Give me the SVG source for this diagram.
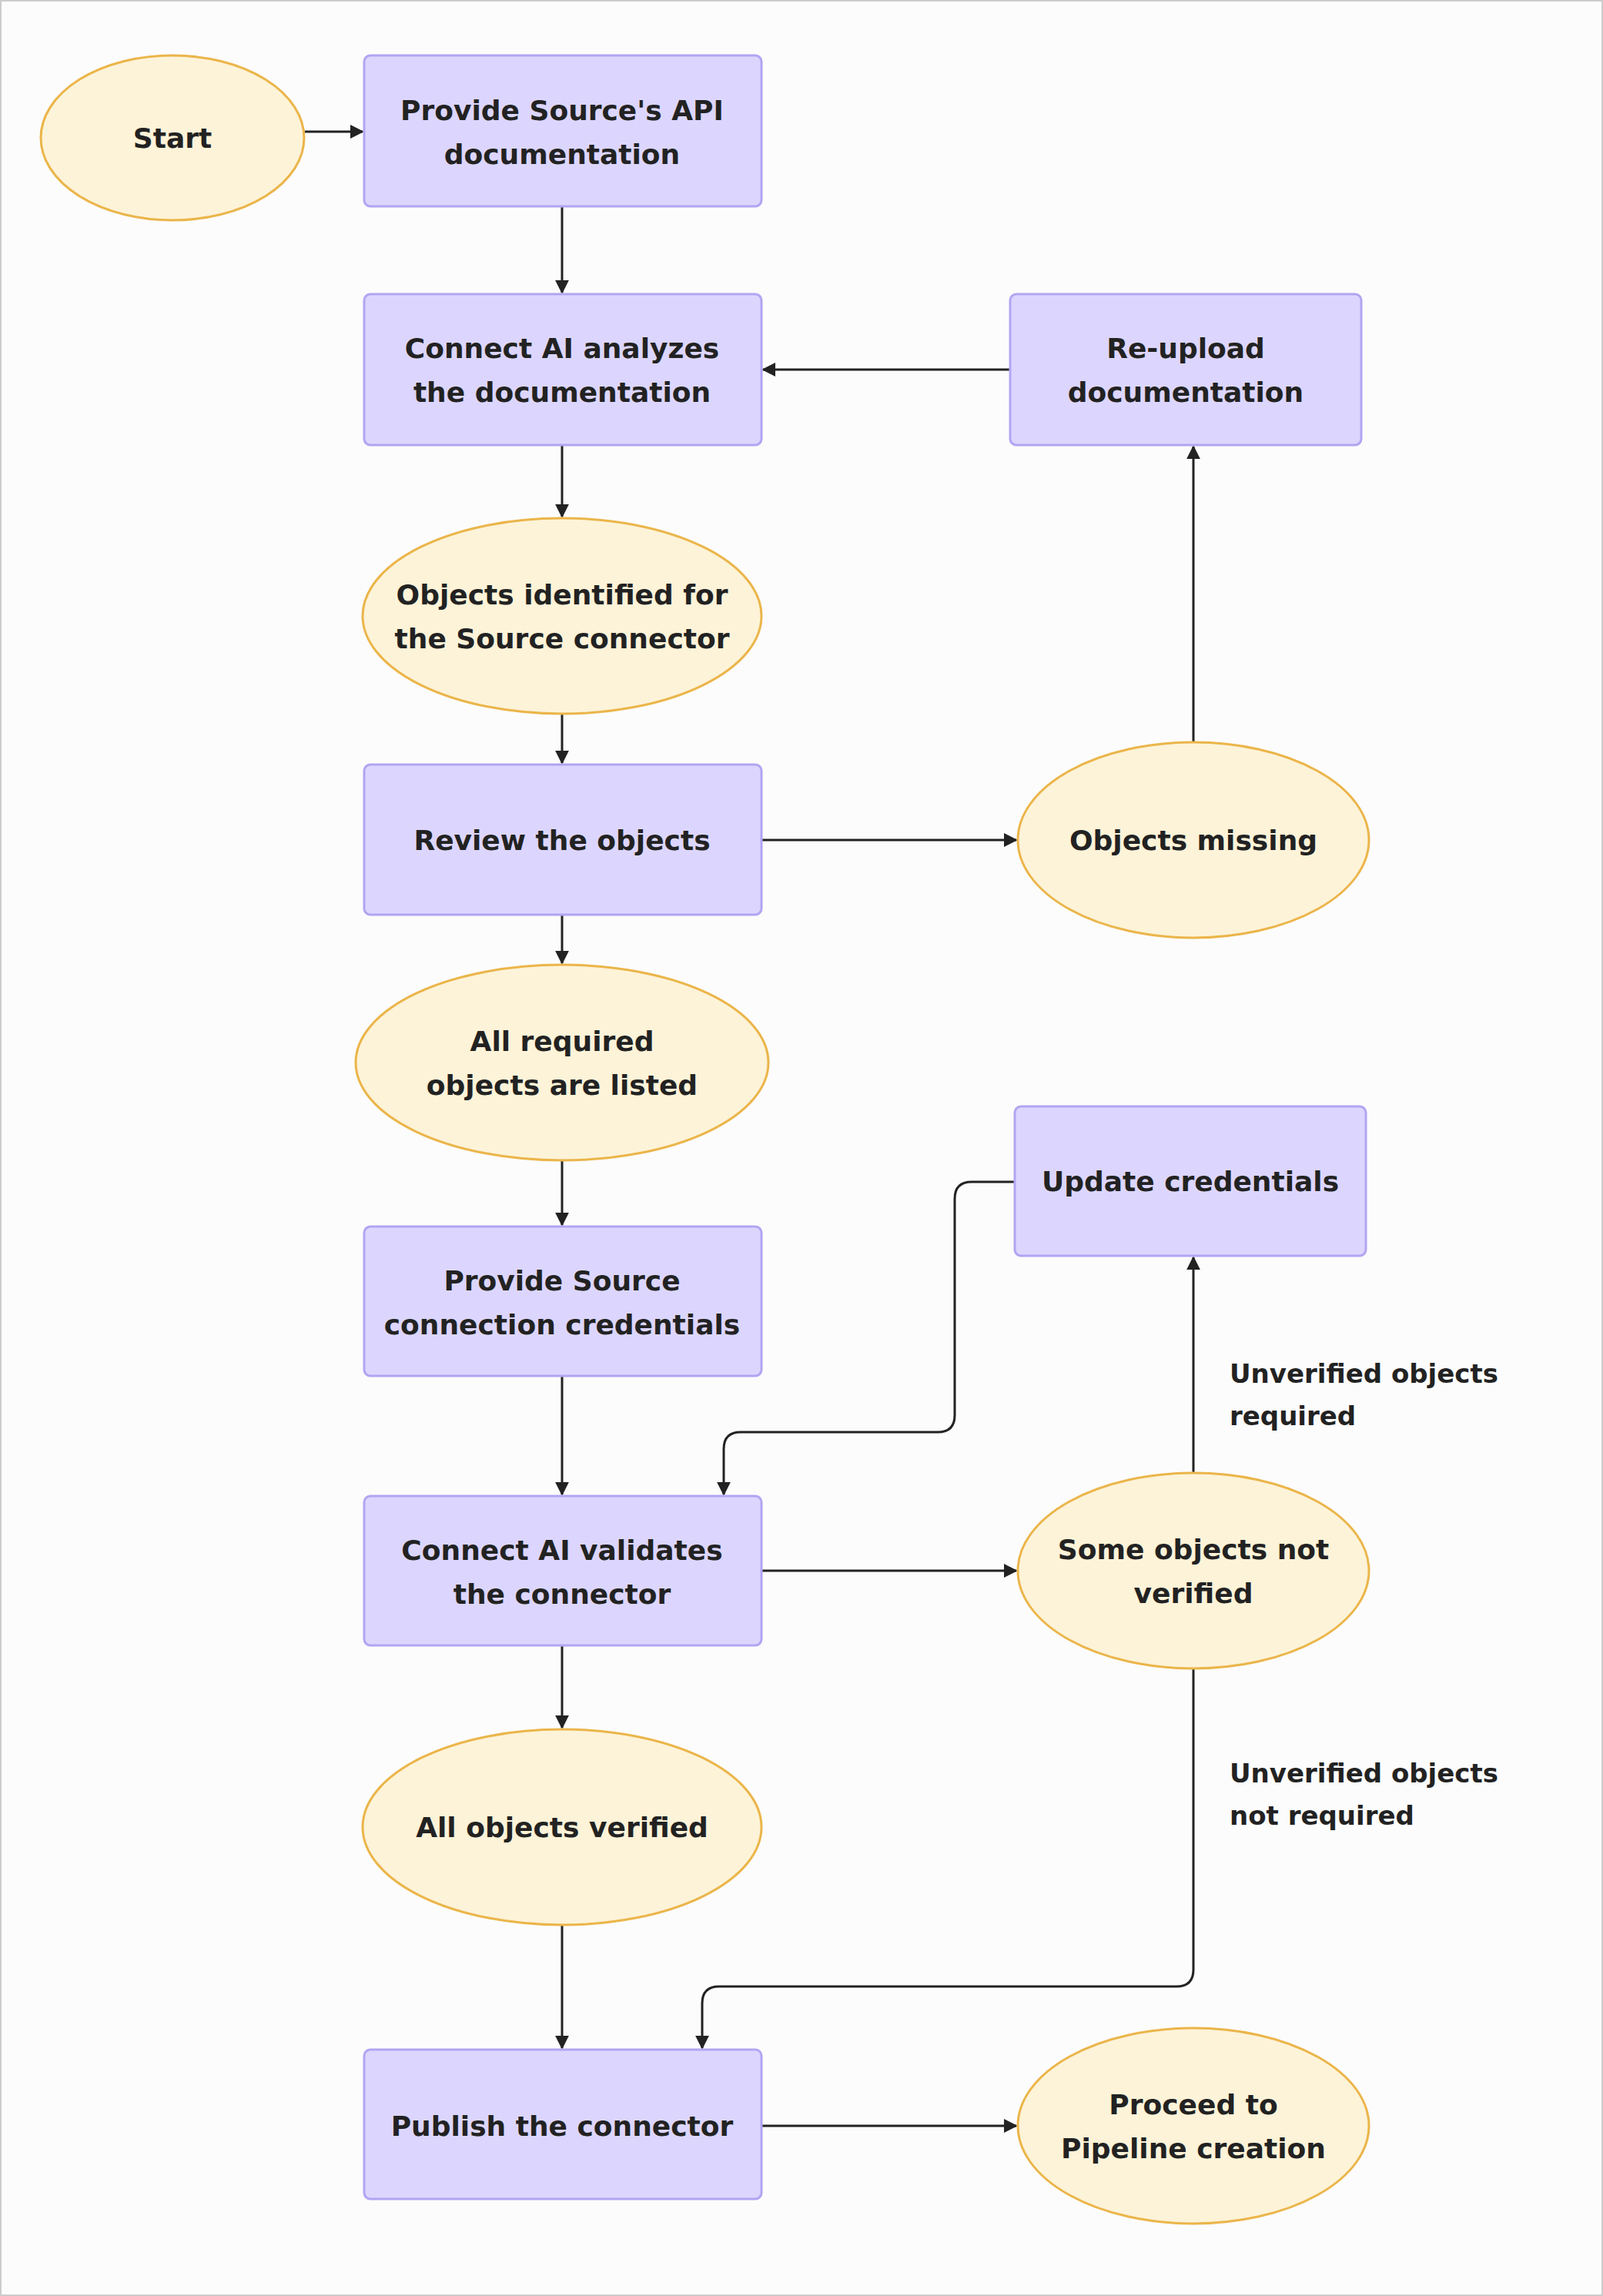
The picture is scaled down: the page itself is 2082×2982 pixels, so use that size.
<svg xmlns="http://www.w3.org/2000/svg" width="2082" height="2982" viewBox="0 0 2082 2982">
<defs>
<marker id="ah" viewBox="0 0 10 10" refX="9" refY="5" markerWidth="6" markerHeight="6" orient="auto"><path d="M0,0L10,5L0,10z" fill="#222"/></marker>
<style>
.r{fill:#DCD6FE;stroke:#B3A4F2;stroke-width:3}
.e{fill:#FDF3D8;stroke:#EBB54A;stroke-width:3}
.t{font-family:"DejaVu Sans",sans-serif;font-weight:bold;font-size:36px;fill:#222;text-anchor:middle}
.l{font-family:"DejaVu Sans",sans-serif;font-weight:bold;font-size:34px;fill:#222}
.c{fill:none;stroke:#222;stroke-width:3;marker-end:url(#ah)}
</style>
</defs>
<rect x="1" y="1" width="2080" height="2980" fill="#FCFCFC" stroke="#ccc" stroke-width="2"/>
<g id="connectors">
<path class="c" d="M396,171H471"/>
<path class="c" d="M730,268V380"/>
<path class="c" d="M730,578V671"/>
<path class="c" d="M730,927V991"/>
<path class="c" d="M989,1091H1320"/>
<path class="c" d="M1550,964V580"/>
<path class="c" d="M1312,480H991"/>
<path class="c" d="M730,1188V1251"/>
<path class="c" d="M730,1507V1591"/>
<path class="c" d="M730,1787V1941"/>
<path class="c" d="M1318,1535H1262Q1240,1535 1240,1557V1838Q1240,1860 1218,1860H962Q940,1860 940,1882V1941"/>
<path class="c" d="M989,2040H1320"/>
<path class="c" d="M1550,1913V1633"/>
<path class="c" d="M730,2137V2244"/>
<path class="c" d="M730,2500V2660"/>
<path class="c" d="M1550,2167V2558Q1550,2580 1528,2580H934Q912,2580 912,2602V2660"/>
<path class="c" d="M989,2761H1320"/>
<text class="l" x="1597" y="1796">Unverified objects</text>
<text class="l" x="1597" y="1851">required</text>
<text class="l" x="1597" y="2315">Unverified objects</text>
<text class="l" x="1597" y="2370">not required</text>
</g>
<g id="start"><ellipse class="e" cx="224" cy="179" rx="171" ry="107"/><text class="t" x="224" y="192">Start</text></g>
<g id="provide"><rect class="r" x="473" y="72" width="516" height="196" rx="8"/><text class="t" x="730" y="156">Provide Source's API</text><text class="t" x="730" y="213">documentation</text></g>
<g id="analyze"><rect class="r" x="473" y="382" width="516" height="196" rx="8"/><text class="t" x="730" y="465">Connect AI analyzes</text><text class="t" x="730" y="522">the documentation</text></g>
<g id="reupload"><rect class="r" x="1312" y="382" width="456" height="196" rx="8"/><text class="t" x="1540" y="465">Re-upload</text><text class="t" x="1540" y="522">documentation</text></g>
<g id="identified"><ellipse class="e" cx="730" cy="800" rx="259" ry="127"/><text class="t" x="730" y="785">Objects identified for</text><text class="t" x="730" y="842">the Source connector</text></g>
<g id="review"><rect class="r" x="473" y="993" width="516" height="195" rx="8"/><text class="t" x="730" y="1104">Review the objects</text></g>
<g id="missing"><ellipse class="e" cx="1550" cy="1091" rx="228" ry="127"/><text class="t" x="1550" y="1104">Objects missing</text></g>
<g id="allreq"><ellipse class="e" cx="730" cy="1380" rx="268" ry="127"/><text class="t" x="730" y="1365">All required</text><text class="t" x="730" y="1422">objects are listed</text></g>
<g id="update"><rect class="r" x="1318" y="1437" width="456" height="194" rx="8"/><text class="t" x="1546" y="1547">Update credentials</text></g>
<g id="creds"><rect class="r" x="473" y="1593" width="516" height="194" rx="8"/><text class="t" x="730" y="1676">Provide Source</text><text class="t" x="730" y="1733">connection credentials</text></g>
<g id="validate"><rect class="r" x="473" y="1943" width="516" height="194" rx="8"/><text class="t" x="730" y="2026">Connect AI validates</text><text class="t" x="730" y="2083">the connector</text></g>
<g id="someunv"><ellipse class="e" cx="1550" cy="2040" rx="228" ry="127"/><text class="t" x="1550" y="2025">Some objects not</text><text class="t" x="1550" y="2082">verified</text></g>
<g id="allver"><ellipse class="e" cx="730" cy="2373" rx="259" ry="127"/><text class="t" x="730" y="2386">All objects verified</text></g>
<g id="publish"><rect class="r" x="473" y="2662" width="516" height="194" rx="8"/><text class="t" x="730" y="2774">Publish the connector</text></g>
<g id="proceed"><ellipse class="e" cx="1550" cy="2761" rx="228" ry="127"/><text class="t" x="1550" y="2746">Proceed to</text><text class="t" x="1550" y="2803">Pipeline creation</text></g>
</svg>
